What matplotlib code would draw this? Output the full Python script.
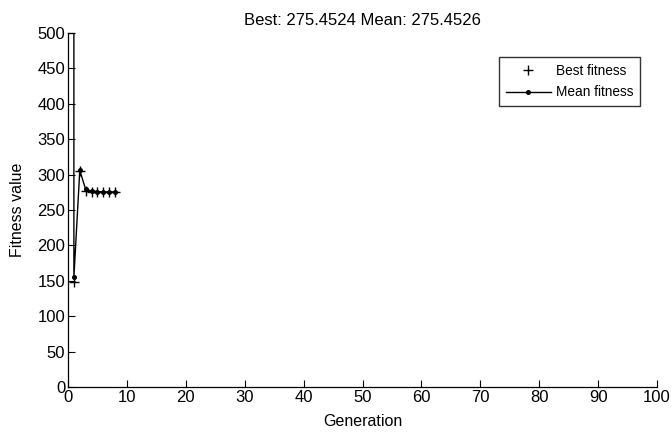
import matplotlib
matplotlib.use("Agg")
import matplotlib.pyplot as plt

# generations and fitness values
best_gen = [1, 2, 3, 4, 5, 6, 7, 8]
best_fit = [148, 305, 277, 276, 275.7, 275.5, 275.46, 275.4524]
# mean at generation 0 is off the scale (huge penalty value)
mean_gen = [0, 1, 2, 3, 4, 5, 6, 7, 8]
mean_fit = [1e6, 155, 306, 279, 277, 276, 275.6, 275.5, 275.4526]

x_ticks = list(range(0, 101, 10))
y_ticks = list(range(0, 501, 50))

plt.rcParams['font.family'] = ['Liberation Sans', 'DejaVu Sans']

fig = plt.figure(figsize=(6.72, 4.34), dpi=100)
ax = fig.add_axes([68 / 672, 47 / 434, 589 / 672, 354 / 434])

ax.plot(best_gen, best_fit, linestyle='none', marker='+', color='black',
        markersize=7, markeredgewidth=1.0, label='Best fitness')
ax.plot(mean_gen, mean_fit, linestyle='-', marker='o', color='black',
        markersize=2.6, linewidth=1.0, label='Mean fitness')

ax.set_xlim(0, 100)
ax.set_ylim(0, 500)
ax.set_xticks(x_ticks)
ax.set_yticks(y_ticks)
ax.tick_params(direction='in', length=5, width=0.8, labelsize=12, pad=2)

ax.spines['right'].set_visible(False)
ax.spines['top'].set_bounds(0, 1)
for s in ax.spines.values():
    s.set_linewidth(0.9)

ax.set_xlabel('Generation', fontsize=11.5, labelpad=7)
ax.set_ylabel('Fitness value', fontsize=11.5, labelpad=9)
ax.set_title('Best: 275.4524 Mean: 275.4526', fontsize=12, pad=6)

leg = ax.legend(loc='upper right', bbox_to_anchor=(0.971, 0.932),
                fontsize=9.8, frameon=True, fancybox=False, shadow=False,
                handlelength=3.3, borderpad=0.5, labelspacing=0.55,
                handletextpad=0.35, borderaxespad=0)
leg.get_frame().set_edgecolor('black')
leg.get_frame().set_linewidth(1.0)

fig.savefig('out.png', dpi=100)
